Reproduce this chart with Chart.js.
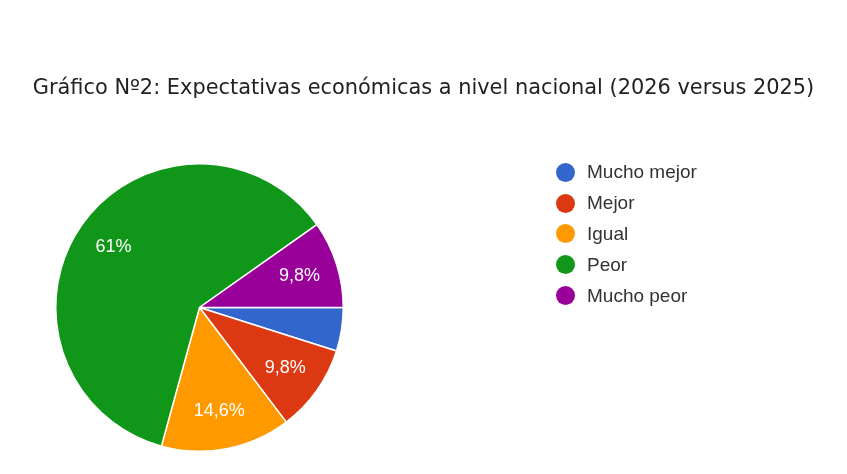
<!DOCTYPE html>
<html>
<head>
<meta charset="utf-8">
<script src="https://cdn.jsdelivr.net/npm/chart.js@4/dist/chart.umd.min.js"></script>
<style>
  html, body { margin:0; padding:0; background:#fff; }
  #wrap { position:relative; width:847px; height:474px; overflow:hidden; }
  #title { position:absolute; left:0; top:73px; width:847px; text-align:center; font-family:"DejaVu Sans", sans-serif; font-size:20.9px; color:#222; line-height:28px; white-space:nowrap; }
  #legend { position:absolute; left:556px; top:157px; font-family:"Liberation Sans", Arial, sans-serif; font-size:19px; color:#333; }
  .item { height:30.8px; display:flex; align-items:center; }
  .dot { width:19px; height:19px; border-radius:50%; margin-right:12px; }
  canvas { position:absolute; left:0; top:0; }
</style>
</head>
<body>
<div id="wrap">
  <canvas id="c" width="847" height="474"></canvas>
  <div id="title"></div>
  <div id="legend"></div>
</div>
<script>
const titleText = "Gráfico Nº2: Expectativas económicas a nivel nacional (2026 versus 2025)";
const categories = ["Mucho mejor", "Mejor", "Igual", "Peor", "Mucho peor"];
const values = [4.9, 9.8, 14.6, 61, 9.8];
const valueLabels = ["4,9%", "9,8%", "14,6%", "61%", "9,8%"];
const colors = ["#3366CC", "#DC3912", "#FF9900", "#109618", "#990099"];

document.getElementById('title').textContent = titleText;
const legend = document.getElementById('legend');
categories.forEach((c, i) => {
  const it = document.createElement('div'); it.className = 'item';
  const d = document.createElement('span'); d.className = 'dot'; d.style.background = colors[i];
  const t = document.createElement('span'); t.textContent = c;
  it.appendChild(d); it.appendChild(t); legend.appendChild(it);
});

const sliceLabels = {
  id: 'sliceLabels',
  afterDatasetsDraw(chart) {
    const ctx = chart.ctx;
    const meta = chart.getDatasetMeta(0);
    ctx.save();
    ctx.fillStyle = '#fff';
    ctx.font = '18px "Liberation Sans", Arial, sans-serif';
    ctx.textAlign = 'center';
    ctx.textBaseline = 'middle';
    meta.data.forEach((arc, i) => {
      if (values[i] < 5) return;
      const p = arc.getProps(['x','y','startAngle','endAngle','outerRadius'], true);
      const mid = (p.startAngle + p.endAngle) / 2;
      const r = p.outerRadius * 0.73;
      ctx.fillText(valueLabels[i], p.x + Math.cos(mid) * r, p.y + Math.sin(mid) * r);
    });
    ctx.restore();
  }
};

new Chart(document.getElementById('c'), {
  type: 'pie',
  data: {
    labels: categories,
    datasets: [{ data: values, backgroundColor: colors, borderColor: '#ffffff', borderWidth: 1.5 }]
  },
  options: {
    responsive: false,
    animation: false,
    rotation: 90,
    layout: { padding: { left: 55, top: 163, right: 503, bottom: 22 } },
    plugins: { legend: { display: false }, tooltip: { enabled: false }, title: { display: false } }
  },
  plugins: [sliceLabels]
});
</script>
</body>
</html>
